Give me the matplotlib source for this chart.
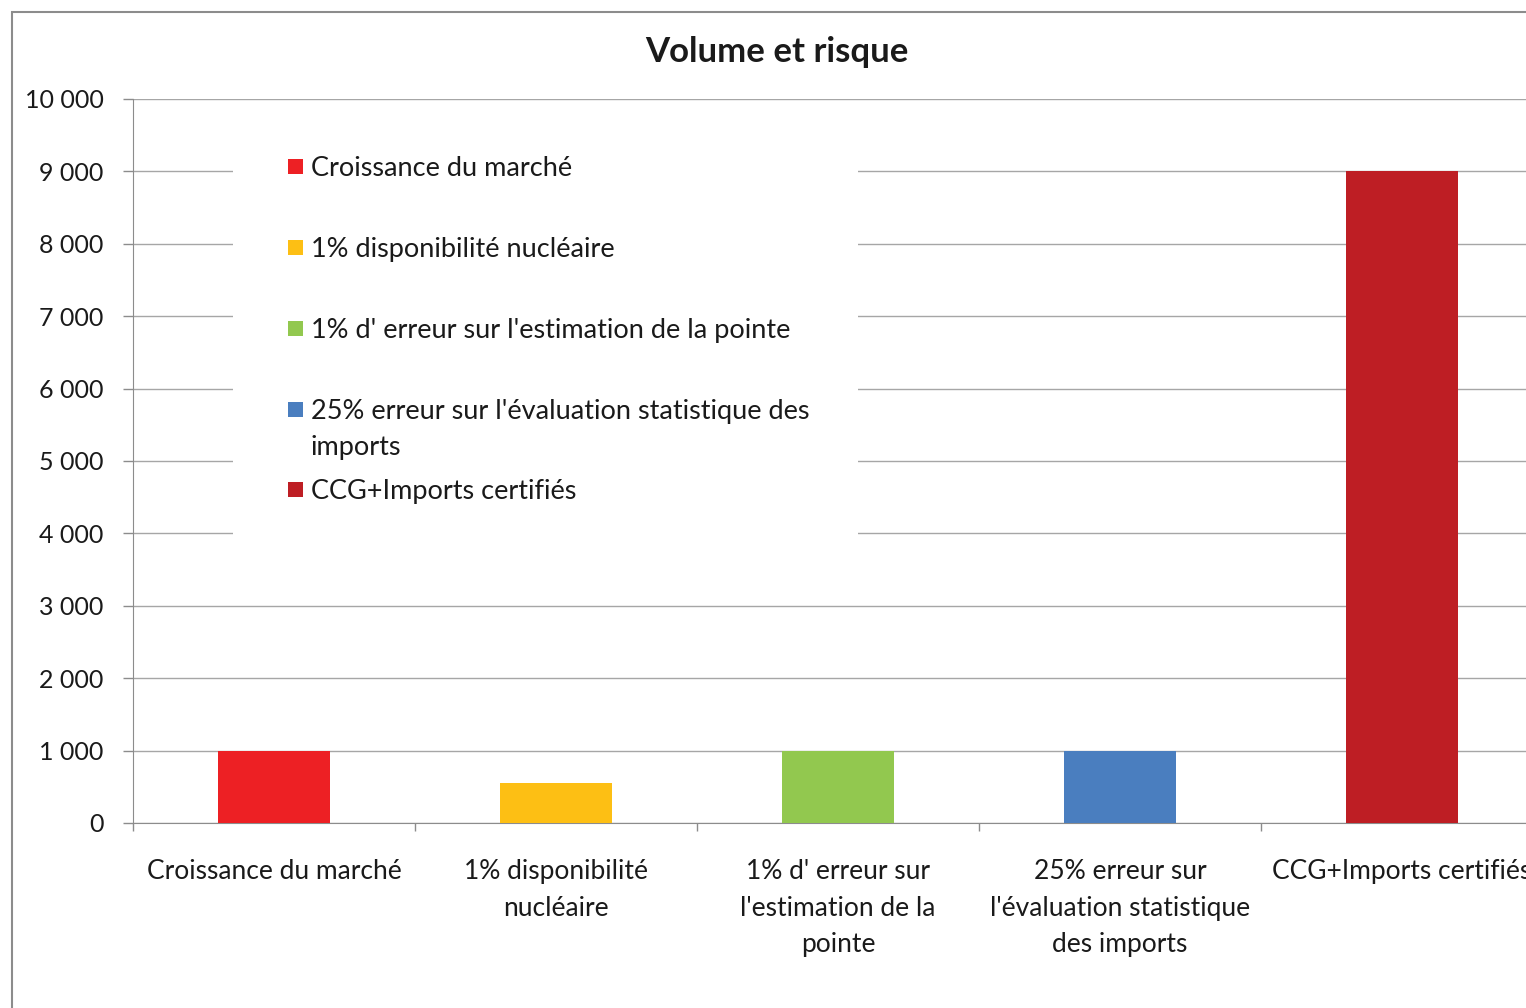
import matplotlib
matplotlib.use("Agg")
import matplotlib.pyplot as plt
from matplotlib.patches import Rectangle
from matplotlib.ticker import FuncFormatter, FixedLocator

plt.rcParams['font.family'] = ['Lato', 'DejaVu Sans']

# Data
categories = [
    "Croissance du marché",
    "1% disponibilité nucléaire",
    "1% d' erreur sur l'estimation de la pointe",
    "25% erreur sur l'évaluation statistique des imports",
    "CCG+Imports certifiés",
]
axis_labels = [
    "Croissance du marché",
    "1% disponibilité\nnucléaire",
    "1% d' erreur sur\nl'estimation de la\npointe",
    "25% erreur sur\nl'évaluation statistique\ndes imports",
    "CCG+Imports certifiés",
]
legend_labels = [
    "Croissance du marché",
    "1% disponibilité nucléaire",
    "1% d' erreur sur l'estimation de la pointe",
    "25% erreur sur l'évaluation statistique des\nimports",
    "CCG+Imports certifiés",
]
values = [1000, 550, 1000, 1000, 9000]
colors = ["#ED2024", "#FDBF14", "#92C84F", "#4A7EBF", "#BE1E24"]
y_ticks = [0, 1000, 2000, 3000, 4000, 5000, 6000, 7000, 8000, 9000, 10000]

W, H = 1526, 1008
fig = plt.figure(figsize=(W / 100, H / 100), dpi=100)
fig.patch.set_facecolor("white")

def fx(px):
    return px / W

def fy(py):
    return 1 - py / H

# Outer chart frame (extends past the right and bottom edges)
fig.add_artist(Rectangle((fx(12), fy(1100)), fx(1600), (1100 - 12) / H,
                         transform=fig.transFigure, fill=False,
                         edgecolor="#8C8C8C", linewidth=1.5, zorder=0))

ax = fig.add_axes([fx(133), fy(823), fx(1410), 724 / H])
ax.set_facecolor("none")

x = list(range(len(values)))
ax.bar(x, values, width=0.4, color=colors, zorder=3)

ax.set_xlim(-0.5, len(values) - 0.5)
ax.set_ylim(0, 10000)

ax.set_yticks(y_ticks)
ax.yaxis.set_major_formatter(FuncFormatter(lambda v, p: f"{v:,.0f}".replace(",", " ")))
ax.tick_params(axis="y", length=7.2, width=1, color="#8C8C8C", pad=14,
               labelsize=18, labelcolor="#1a1a1a")

ax.set_xticks(x)
ax.set_xticklabels(axis_labels, linespacing=1.57)
ax.tick_params(axis="x", which="major", length=0, pad=26, labelsize=19,
               labelcolor="#1a1a1a")
ax.xaxis.set_minor_locator(FixedLocator([i - 0.5 for i in range(len(values) + 1)]))
ax.tick_params(axis="x", which="minor", length=6, width=1, color="#8C8C8C")

ax.yaxis.grid(True, color="#A6A6A6", linewidth=1, zorder=0)
ax.set_axisbelow(True)
for s in ["top", "right"]:
    ax.spines[s].set_visible(False)
ax.spines["left"].set_color("#8C8C8C")
ax.spines["bottom"].set_color("#8C8C8C")

fig.text(fx(777), fy(52), "Volume et risque", ha="center", va="center",
         fontsize=25, fontweight="bold", color="#1a1a1a")

# Legend panel drawn over the gridlines
fig.add_artist(Rectangle((fx(233), fy(560)), fx(858 - 233), (560 - 135) / H,
                         transform=fig.transFigure, facecolor="white",
                         edgecolor="none", zorder=2))
row_y = [166, 247, 328, 409, 489]
for lbl, col, ry in zip(legend_labels, colors, row_y):
    fig.add_artist(Rectangle((fx(288), fy(ry + 8)), fx(15), 15 / H,
                             transform=fig.transFigure, facecolor=col,
                             edgecolor="none", zorder=3))
    fig.text(fx(311), fy(ry - 10), lbl, ha="left", va="top", fontsize=19.5,
             color="#1a1a1a", linespacing=1.57, zorder=4)

fig.savefig("out.png", dpi=100)
